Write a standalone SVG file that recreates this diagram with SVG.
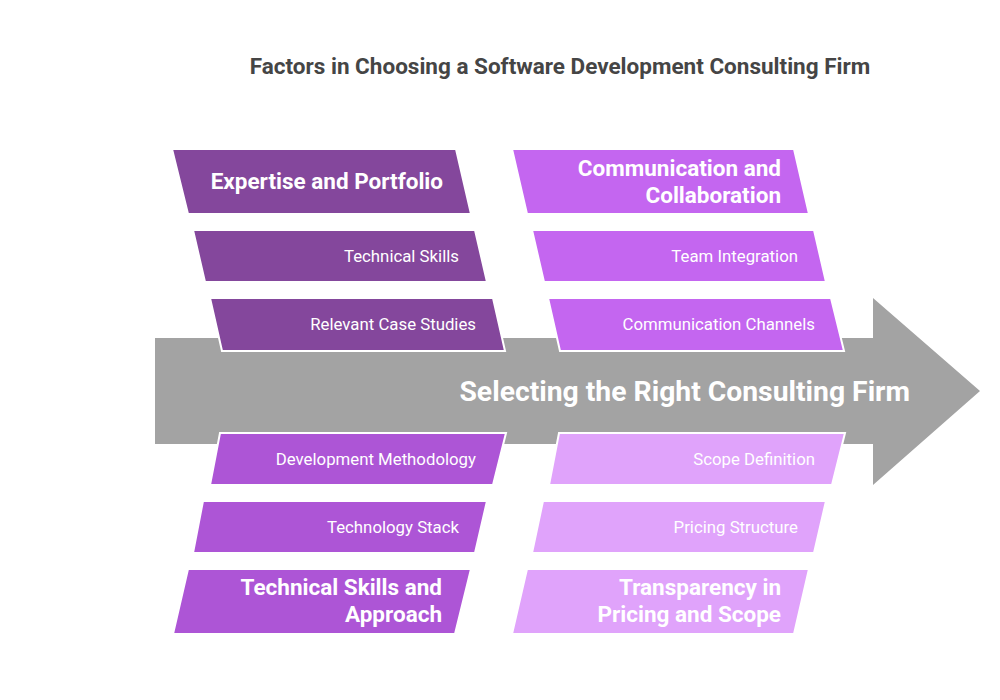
<svg xmlns="http://www.w3.org/2000/svg" width="1000" height="700" viewBox="0 0 1000 700">
<style>
.title{font-family:Roboto,"Liberation Sans",sans-serif;font-weight:700;font-size:22.5px;fill:#454545}
.main{font-family:Roboto,"Liberation Sans",sans-serif;font-weight:700;font-size:28.3px;fill:#ffffff}
.h{font-family:Roboto,"Liberation Sans",sans-serif;font-weight:700;font-size:22.5px;fill:#ffffff;text-anchor:end}
.s{font-family:Roboto,"Liberation Sans",sans-serif;font-size:16.8px;fill:#ffffff;text-anchor:end}
.box{stroke:#ffffff;stroke-width:2}
.c1{fill:#84479c}.c2{fill:#c466f0}.c3{fill:#ad55d6}.c4{fill:#e0a3fb}
</style>
<rect width="1000" height="700" fill="#ffffff"/>
<text class="title" x="560" y="74" text-anchor="middle">Factors in Choosing a Software Development Consulting Firm</text>
<g id="spine">
<polygon points="155,338 873,338 873,298 980,391 873,485 873,444 155,444" fill="#a3a3a3"/>
<text class="main" x="910" y="401" text-anchor="end">Selecting the Right Consulting Firm</text>
</g>
<g id="connectors"></g>
<g id="expertise">
<polygon class="box c1" points="172,149 456,149 471,214 188,214"/>
<text class="h" x="443" y="189">Expertise and Portfolio</text>
</g>
<g id="technical-skills">
<polygon class="box c1" points="193,230 475,230 487,282 205,282"/>
<text class="s" x="459" y="262">Technical Skills</text>
</g>
<g id="case-studies">
<polygon class="box c1" points="210,298 493,298 505,351 222,351"/>
<text class="s" x="476" y="330">Relevant Case Studies</text>
</g>
<g id="communication">
<polygon class="box c2" points="512,149 794,149 809,214 527,214"/>
<text class="h" x="781" y="176">Communication and</text>
<text class="h" x="781" y="203">Collaboration</text>
</g>
<g id="team-integration">
<polygon class="box c2" points="532,230 814,230 826,282 544,282"/>
<text class="s" x="798" y="262">Team Integration</text>
</g>
<g id="channels">
<polygon class="box c2" points="548,298 831,298 844,351 560,351"/>
<text class="s" x="815" y="330">Communication Channels</text>
</g>
<g id="methodology">
<polygon class="box c3" points="220,433 506,433 493,485 210,485"/>
<text class="s" x="476" y="465">Development Methodology</text>
</g>
<g id="tech-stack">
<polygon class="box c3" points="203,501 487,501 475,553 193,553"/>
<text class="s" x="459" y="533">Technology Stack</text>
</g>
<g id="tech-approach">
<polygon class="box c3" points="188,569 471,569 455,634 173,634"/>
<text class="h" x="442" y="595">Technical Skills and</text>
<text class="h" x="442" y="622">Approach</text>
</g>
<g id="scope-definition">
<polygon class="box c4" points="559,433 845,433 832,485 549,485"/>
<text class="s" x="815" y="465">Scope Definition</text>
</g>
<g id="pricing-structure">
<polygon class="box c4" points="543,501 826,501 814,553 532,553"/>
<text class="s" x="798" y="533">Pricing Structure</text>
</g>
<g id="transparency">
<polygon class="box c4" points="527,569 809,569 794,634 512,634"/>
<text class="h" x="781" y="595">Transparency in</text>
<text class="h" x="781" y="622">Pricing and Scope</text>
</g>
</svg>
